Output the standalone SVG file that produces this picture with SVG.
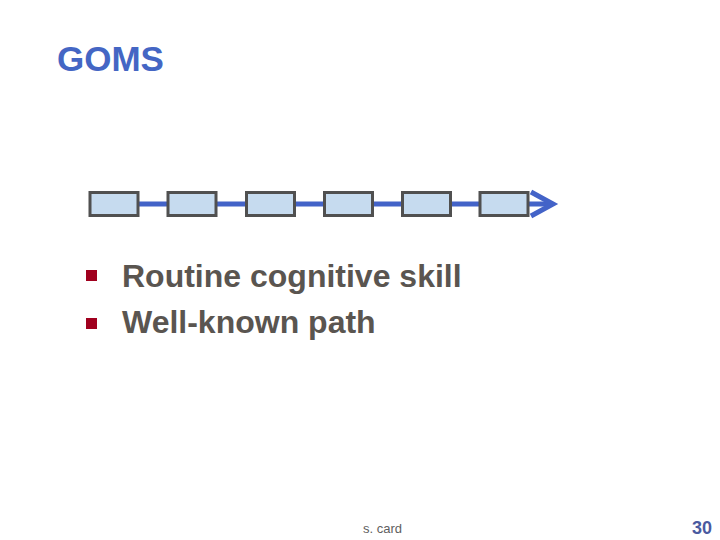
<svg xmlns="http://www.w3.org/2000/svg" width="720" height="540" viewBox="0 0 720 540">
<style>
.box{fill:#c6dbef;stroke:#505050;stroke-width:3}
.link{stroke:#4363c8;stroke-width:5;fill:none}
.title{font-family:"Liberation Sans",Arial,sans-serif;font-weight:bold;font-size:35px;fill:#4466c4}
.bt{font-family:"Liberation Sans",Arial,sans-serif;font-weight:bold;font-size:32px;fill:#5a5550}
.bul{fill:#a0001e}
</style>
<rect width="720" height="540" fill="#ffffff"/>
<text class="title" x="57" y="71">GOMS</text>
<g id="connectors">
<line class="link" x1="139" y1="204" x2="553" y2="204"/>
<polyline class="link" points="531,192 553,204 531,216" stroke-width="5.5"/>
</g>
<g id="n1"><rect class="box" x="90" y="192.5" width="48" height="23"/></g>
<g id="n2"><rect class="box" x="168" y="192.5" width="48" height="23"/></g>
<g id="n3"><rect class="box" x="246.5" y="192.5" width="48" height="23"/></g>
<g id="n4"><rect class="box" x="324.5" y="192.5" width="48" height="23"/></g>
<g id="n5"><rect class="box" x="402.5" y="192.5" width="48" height="23"/></g>
<g id="n6"><rect class="box" x="480" y="192.5" width="48" height="23"/></g>
<rect class="bul" x="86" y="270" width="11" height="11"/>
<text class="bt" x="122" y="287">Routine cognitive skill</text>
<rect class="bul" x="86" y="318" width="11" height="11"/>
<text class="bt" x="122" y="333">Well-known path</text>
<text x="363" y="533" font-family="'Liberation Sans',Arial,sans-serif" font-size="13" fill="#606060">s. card</text>
<text x="712" y="534" text-anchor="end" font-family="'Liberation Sans',Arial,sans-serif" font-weight="bold" font-size="18" fill="#4a5aa0">30</text>
</svg>
